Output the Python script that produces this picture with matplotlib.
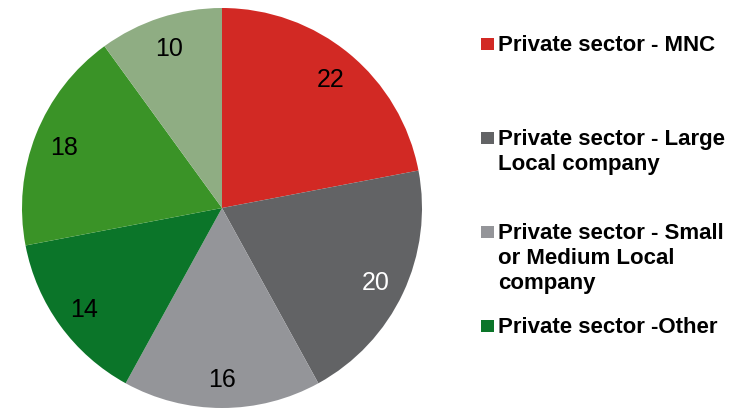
import matplotlib
matplotlib.use("Agg")
import matplotlib.pyplot as plt

# shares by sector, clockwise from 12 o'clock
values = [22, 20, 16, 14, 18, 10]
colors = ["#D22924", "#626365", "#949599", "#0B7529", "#3A9327", "#8FAD83"]
label_colors = ["black", "white", "black", "black", "black", "black"]

legend_labels = [
    "Private sector - MNC",
    "Private sector - Large\nLocal company",
    "Private sector - Small\nor Medium Local\ncompany",
    "Private sector -Other",
]

W, H = 744, 409
fig = plt.figure(figsize=(W / 100, H / 100), dpi=100)

# pie axes: centre ~ (222, 208) px, radius ~ 200 px
ax = fig.add_axes([22 / W, 1 - 408 / H, 400 / W, 400 / H])
wedges, texts = ax.pie(
    values,
    colors=colors,
    startangle=90,
    counterclock=False,
    radius=1.0,
    labels=[str(v) for v in values],
    labeldistance=0.85,
    textprops={"family": "Liberation Sans", "fontsize": 18},
    wedgeprops={"linewidth": 0},
)
for t, c in zip(texts, label_colors):
    t.set_color(c)
    t.set_ha("center")
    t.set_va("center_baseline")
ax.set_xlim(-1, 1)
ax.set_ylim(-1, 1)
ax.set_aspect("equal")
ax.axis("off")

# legend, hand placed (entries start every 94 px)
for i, (lab, c) in enumerate(zip(legend_labels, colors)):
    y_top = 44 + 94 * i
    fig.patches.append(plt.Rectangle(
        (481 / W, 1 - (y_top + 6) / H), 13 / W, 12 / H,
        transform=fig.transFigure, color=c, lw=0))
    fig.text(498 / W, 1 - (y_top - 9) / H, lab,
             family="Liberation Sans", fontweight="bold", fontsize=16,
             va="top", ha="left", linespacing=1.25)

plt.savefig("out.png", dpi=100)
